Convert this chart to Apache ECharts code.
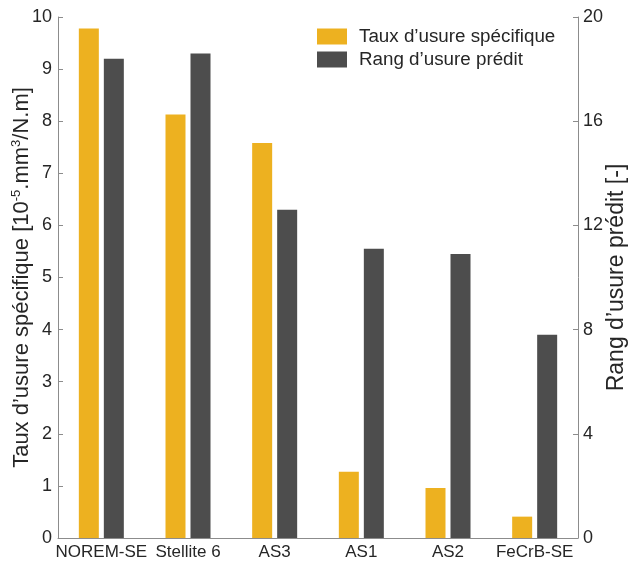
<!DOCTYPE html>
<html>
<head>
<meta charset="utf-8">
<script src="https://cdn.jsdelivr.net/npm/echarts@6/dist/echarts.min.js"></script>
<style>html,body{margin:0;padding:0;background:#fff}#c{width:629px;height:562px}</style>
</head>
<body>
<div id="c"></div>
<script>
const categories = ['NOREM-SE', 'Stellite 6', 'AS3', 'AS1', 'AS2', 'FeCrB-SE'];
const tauxUsure = [9.78, 8.13, 7.58, 1.27, 0.96, 0.41];
const rangUsure = [18.4, 18.6, 12.6, 11.1, 10.9, 7.8];
const leftTicks = [0, 1, 2, 3, 4, 5, 6, 7, 8, 9, 10];
const rightTicks = [0, 4, 8, 12, 16, 20];

const FONT = 'Liberation Sans, Arial, sans-serif';
const TXT = '#262626';
const AX = '#8c8c8c';

const chart = echarts.init(document.getElementById('c'));
chart.setOption({
  animation: false,
  backgroundColor: '#fff',
  textStyle: { fontFamily: FONT },
  grid: { left: 58, right: 51, top: 17, bottom: 24, containLabel: false, outerBoundsMode: 'none' },
  legend: {
    left: 312, top: 22, orient: 'vertical',
    icon: 'rect',
    itemWidth: 30, itemHeight: 16, itemGap: 4,
    textStyle: { fontSize: 18.8, color: TXT, fontFamily: FONT, padding: [0, 0, 0, 7] },
    data: ['Taux d’usure spécifique', 'Rang d’usure prédit']
  },
  xAxis: {
    type: 'category', data: categories,
    axisLine: { lineStyle: { color: AX, width: 1 } },
    axisTick: { show: false },
    axisLabel: { color: TXT, fontSize: 17, fontFamily: FONT, margin: 6, interval: 0, hideOverlap: false }
  },
  yAxis: [
    {
      type: 'value', min: leftTicks[0], max: leftTicks[leftTicks.length - 1], interval: 1,
      name: 'Taux d’usure spécifique [10{sup|-5}.mm{sup|3}/N.m]',
      nameLocation: 'middle', nameGap: 25, nameRotate: 90, nameMoveOverlap: false,
      nameTextStyle: { fontSize: 22, color: TXT, fontFamily: FONT,
        rich: { sup: { fontSize: 13, verticalAlign: 'top', color: TXT, padding: [0, 0, 10, 0] } } },
      axisLine: { show: true, lineStyle: { color: AX } },
      axisTick: { show: true, inside: true, length: 5, lineStyle: { color: AX } },
      axisLabel: { color: TXT, fontSize: 18, fontFamily: FONT, margin: 6 },
      splitLine: { show: false }
    },
    {
      type: 'value', min: rightTicks[0], max: rightTicks[rightTicks.length - 1], interval: 4,
      position: 'right',
      name: 'Rang d’usure prédit [-]',
      nameLocation: 'middle', nameGap: 27, nameRotate: 90, nameMoveOverlap: false,
      nameTextStyle: { fontSize: 23, color: TXT, fontFamily: FONT },
      axisLine: { show: true, lineStyle: { color: AX } },
      axisTick: { show: true, inside: true, length: 5, lineStyle: { color: AX } },
      axisLabel: { color: TXT, fontSize: 18, fontFamily: FONT, margin: 5 },
      splitLine: { show: false }
    }
  ],
  series: [
    {
      name: 'Taux d’usure spécifique', type: 'bar', yAxisIndex: 0,
      data: tauxUsure, barWidth: 20, barGap: '25%',
      itemStyle: { color: '#EDB120' }
    },
    {
      name: 'Rang d’usure prédit', type: 'bar', yAxisIndex: 1,
      data: rangUsure, barWidth: 20, barGap: '25%',
      itemStyle: { color: '#4D4D4D' }
    }
  ]
});
</script>
</body>
</html>
